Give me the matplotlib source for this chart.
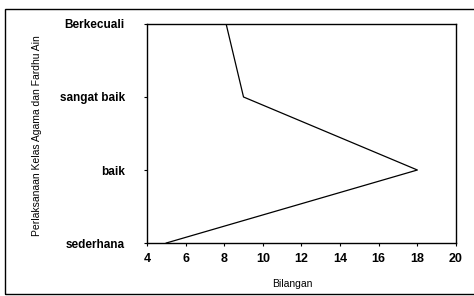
import matplotlib
matplotlib.use("Agg")
import matplotlib.pyplot as plt
from matplotlib.patches import Rectangle

categories = ["sederhana", "baik", "sangat baik", "Berkecuali"]
counts = [5, 18, 9, 8.1]
x_ticks = [4, 6, 8, 10, 12, 14, 16, 18, 20]

plt.rcParams["font.family"] = ["Liberation Sans", "DejaVu Sans"]

fig = plt.figure(figsize=(4.74, 2.96), dpi=100)
ax = fig.add_axes([0.310, 0.179, 0.652, 0.740])

y_pos = list(range(len(categories)))
ax.plot(counts, y_pos, color="black", linewidth=0.9)

ax.set_xlim(4, 20)
ax.set_ylim(0, len(categories) - 1)
ax.set_xticks(x_ticks)
ax.set_xticklabels([str(t) for t in x_ticks], fontsize=9, fontweight="bold")
ax.set_yticks(y_pos)
ax.set_yticklabels(categories, fontsize=8.5, fontweight="bold")
ax.tick_params(axis="both", direction="out", length=2, width=0.8, pad=5)
ax.tick_params(axis="y", pad=14)

for s in ax.spines.values():
    s.set_linewidth(1.0)

ax.set_xlabel("Bilangan", fontsize=7.5)
ax.set_ylabel("Perlaksanaan Kelas Agama dan Fardhu Ain", fontsize=7.5)
ax.xaxis.set_label_coords(0.47, -0.165)
ax.yaxis.set_label_coords(-0.34, 0.49)

# outer frame around the chart area
fig.patches.append(Rectangle((0.011, 0.006), 1.2, 0.963, transform=fig.transFigure,
                             fill=False, edgecolor="black", linewidth=1.0))

fig.savefig("out.png", dpi=100)
